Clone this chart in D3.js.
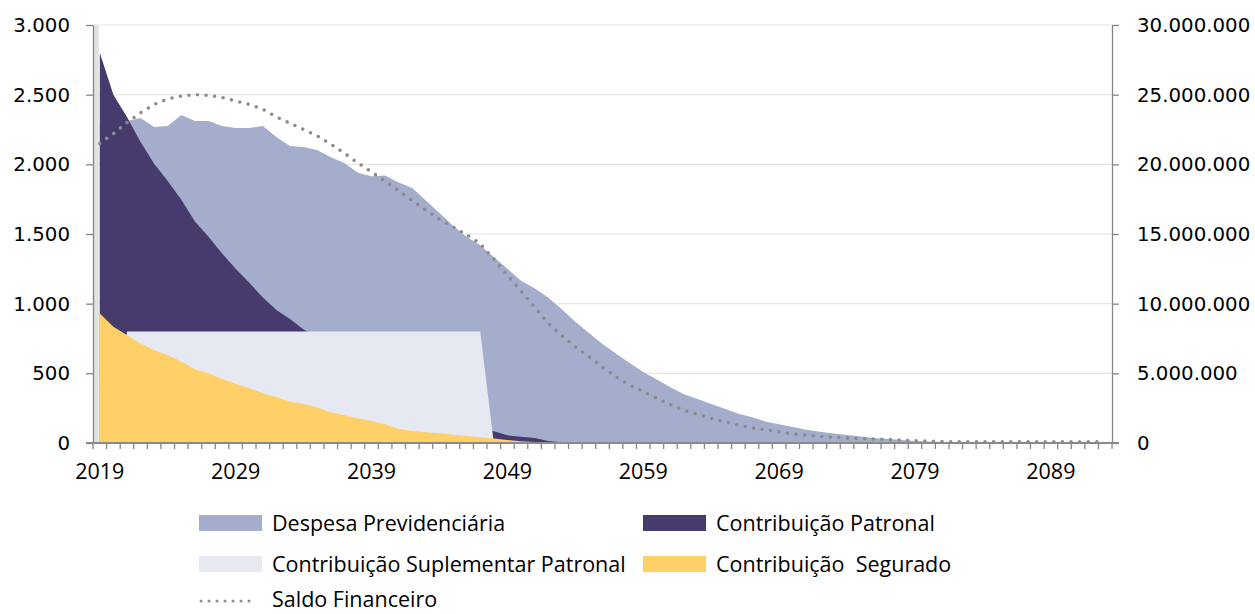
<!DOCTYPE html>
<html lang="pt-BR">
<head>
<meta charset="utf-8">
<title>Projeção atuarial</title>
<script src="https://cdn.jsdelivr.net/npm/d3@7/dist/d3.min.js"></script>
<style>
  html, body { margin: 0; padding: 0; background: #fff; }
  svg { display: block; }
</style>
</head>
<body>
<div id="chart"></div>
<script>
// categorias (anos)
const anos = d3.range(2019, 2094);

// Despesa Previdenciária (eixo esquerdo)
const despesa = [2290, 2300, 2311, 2332, 2268, 2275, 2354, 2311, 2311, 2275,
  2261, 2261, 2275, 2196, 2132, 2124, 2103, 2050, 2010, 1940,
  1915, 1920, 1870, 1830, 1740, 1650, 1560, 1480, 1420, 1335,
  1250, 1165, 1110, 1045, 960, 870, 790, 710, 640, 575,
  510, 455, 400, 350, 315, 280, 245, 210, 185, 155,
  135, 115, 95, 80, 68, 57, 46, 36, 28, 21,
  15, 10, 7, 5, 3, 2, 1, 1, 0, 0,
  0, 0, 0, 0, 0];

// Contribuição Patronal
const patronal = [2800, 2500, 2340, 2160, 2005, 1880, 1745, 1590, 1480, 1360,
  1250, 1150, 1045, 955, 890, 815, 760, 700, 640, 580,
  520, 460, 400, 340, 280, 220, 170, 130, 100, 85,
  55, 45, 35, 15, 5, 0, 0, 0, 0, 0,
  0, 0, 0, 0, 0, 0, 0, 0, 0, 0,
  0, 0, 0, 0, 0, 0, 0, 0, 0, 0,
  0, 0, 0, 0, 0, 0, 0, 0, 0, 0,
  0, 0, 0, 0, 0];

// Contribuição Suplementar Patronal
const suplementar = [0, 0, 800, 800, 800, 800, 800, 800, 800, 800,
  800, 800, 800, 800, 800, 800, 800, 800, 800, 800,
  800, 800, 800, 800, 800, 800, 800, 800, 800, 0,
  0, 0, 0, 0, 0, 0, 0, 0, 0, 0,
  0, 0, 0, 0, 0, 0, 0, 0, 0, 0,
  0, 0, 0, 0, 0, 0, 0, 0, 0, 0,
  0, 0, 0, 0, 0, 0, 0, 0, 0, 0,
  0, 0, 0, 0, 0];

// Contribuição Segurado
const segurado = [930, 835, 775, 715, 665, 630, 585, 530, 500, 460,
  425, 393, 357, 328, 298, 280, 255, 220, 200, 178,
  158, 135, 102, 86, 78, 70, 60, 50, 42, 32,
  22, 12, 8, 4, 0, 0, 0, 0, 0, 0,
  0, 0, 0, 0, 0, 0, 0, 0, 0, 0,
  0, 0, 0, 0, 0, 0, 0, 0, 0, 0,
  0, 0, 0, 0, 0, 0, 0, 0, 0, 0,
  0, 0, 0, 0, 0];

// Saldo Financeiro, em milhões (eixo direito)
const saldoMilhoes = [21.5, 22.2, 23.0, 23.7, 24.3, 24.7, 24.9, 25.0, 24.95, 24.8,
  24.55, 24.3, 23.95, 23.4, 22.95, 22.5, 22.05, 21.45, 20.8, 20.1,
  19.45, 18.8, 18.1, 17.4, 16.7, 16.05, 15.5, 14.95, 14.3, 13.2,
  12.05, 10.9, 9.75, 8.6, 7.7, 6.9, 6.2, 5.45, 4.75, 4.15,
  3.7, 3.2, 2.75, 2.35, 2.05, 1.77, 1.52, 1.3, 1.08, 0.95,
  0.8, 0.66, 0.56, 0.47, 0.41, 0.35, 0.31, 0.29, 0.25, 0.2,
  0.16, 0.13, 0.1, 0.08, 0.08, 0.08, 0.08, 0.08, 0.08, 0.08,
  0.08, 0.08, 0.08, 0.08, 0.08];

const ticksEsq = [0, 500, 1000, 1500, 2000, 2500, 3000];
const ticksDir = [0, 5000000, 10000000, 15000000, 20000000, 25000000, 30000000];
const rotulosAnos = [2019, 2029, 2039, 2049, 2059, 2069, 2079, 2089];

const width = 1255, height = 614;
const plot = { left: 93, right: 1112, top: 25, bottom: 443 };

const fontEixoY = "'DejaVu Sans', Verdana, sans-serif";
const fontTexto = "'Open Sans', 'Noto Sans', sans-serif";

const svg = d3.select("#chart").append("svg")
  .attr("width", width)
  .attr("height", height);

// escalas
const x = d3.scaleBand().domain(anos).range([plot.left, plot.right]);
const cx = a => x(a) + x.bandwidth() / 2;
const yL = d3.scaleLinear().domain([0, 3000]).range([plot.bottom, plot.top]);
const yR = d3.scaleLinear().domain([0, 30000000]).range([plot.bottom, plot.top]);

const br = d3.formatLocale({ decimal: ",", thousands: ".", grouping: [3], currency: ["R$ ", ""] });
const fmt = br.format(",");

// linhas de grade
svg.append("g")
  .selectAll("line")
  .data(ticksEsq.slice(1))
  .join("line")
  .attr("x1", plot.left).attr("x2", plot.right)
  .attr("y1", d => yL(d)).attr("y2", d => yL(d))
  .attr("stroke", "#e6e6e6")
  .attr("stroke-width", 1.2);

// faixa cinza junto ao eixo esquerdo
svg.append("rect")
  .attr("x", plot.left + 1)
  .attr("y", plot.top)
  .attr("width", cx(anos[0]) - plot.left - 2)
  .attr("height", plot.bottom - plot.top)
  .attr("fill", "#e2e2e2");

// áreas (ordem do Excel: a última fica na frente)
const series = [
  { nome: "Despesa Previdenciária", valores: despesa, cor: "#a4adcc" },
  { nome: "Contribuição Patronal", valores: patronal, cor: "#463b6c" },
  { nome: "Contribuição Suplementar Patronal", valores: suplementar, cor: "#e6e9f2" },
  { nome: "Contribuição  Segurado", valores: segurado, cor: "#fed067" }
];

const area = d3.area()
  .x((d, i) => cx(anos[i]))
  .y0(yL(0))
  .y1(d => yL(d));

svg.append("g")
  .selectAll("path")
  .data(series)
  .join("path")
  .attr("d", s => area(s.valores))
  .attr("fill", s => s.cor);

// saldo financeiro (pontilhado)
const linha = d3.line()
  .x((d, i) => cx(anos[i]))
  .y(d => yR(d * 1000000));

svg.append("path")
  .attr("d", linha(saldoMilhoes))
  .attr("fill", "none")
  .attr("stroke", "#8c8c8c")
  .attr("stroke-width", 3.6)
  .attr("stroke-linecap", "round")
  .attr("stroke-dasharray", "0,8.6");

// eixo esquerdo
const eixoEsq = svg.append("g")
  .attr("transform", `translate(${plot.left},0)`)
  .call(d3.axisLeft(yL).tickValues(ticksEsq).tickFormat(fmt).tickSize(7).tickSizeOuter(0).tickPadding(16));

// eixo direito
const eixoDir = svg.append("g")
  .attr("transform", `translate(${plot.right},0)`)
  .call(d3.axisRight(yR).tickValues(ticksDir).tickFormat(fmt).tickSize(7).tickSizeOuter(0).tickPadding(18));

[eixoEsq, eixoDir].forEach(g => {
  g.select(".domain").attr("stroke", "#868686").attr("stroke-width", 1.3);
  g.selectAll(".tick line").attr("stroke", "#868686").attr("stroke-width", 1.3);
  g.selectAll(".tick text")
    .attr("fill", "#000")
    .style("font-family", fontEixoY)
    .style("font-size", "19.8px");
});

// eixo inferior
const eixoX = svg.append("g").attr("transform", `translate(0,${plot.bottom})`);

eixoX.selectAll("line.marca")
  .data(anos.concat([null]))
  .join("line")
  .attr("class", "marca")
  .attr("x1", a => a === null ? plot.right : x(a))
  .attr("x2", a => a === null ? plot.right : x(a))
  .attr("y1", 0).attr("y2", 6)
  .attr("stroke", "#868686")
  .attr("stroke-width", 1.3);

eixoX.append("line")
  .attr("x1", plot.left - 7).attr("x2", plot.right + 7)
  .attr("y1", 0).attr("y2", 0)
  .attr("stroke", "#8a8a8a")
  .attr("stroke-width", 2);

eixoX.selectAll("text")
  .data(rotulosAnos)
  .join("text")
  .attr("x", a => cx(a))
  .attr("y", 36)
  .attr("text-anchor", "middle")
  .style("font-family", fontTexto)
  .style("font-size", "21.5px")
  .text(a => a);

// legenda
const legenda = svg.append("g").style("font-family", fontTexto).style("font-size", "21.5px");
const posLegenda = [
  { x: 199, y: 523 },
  { x: 643, y: 523 },
  { x: 199, y: 564 },
  { x: 643, y: 564 }
];

series.forEach((s, i) => {
  const p = posLegenda[i];
  legenda.append("rect")
    .attr("x", p.x).attr("y", p.y - 8)
    .attr("width", 63).attr("height", 16)
    .attr("fill", s.cor);
  legenda.append("text")
    .attr("x", p.x + 73).attr("y", p.y)
    .attr("dy", "0.35em")
    .style("white-space", "pre")
    .attr("xml:space", "preserve")
    .text(s.nome);
});

legenda.append("line")
  .attr("x1", 201).attr("x2", 250)
  .attr("y1", 601).attr("y2", 601)
  .attr("stroke", "#8c8c8c")
  .attr("stroke-width", 3)
  .attr("stroke-linecap", "round")
  .attr("stroke-dasharray", "0,8");

legenda.append("text")
  .attr("x", 272).attr("y", 599)
  .attr("dy", "0.35em")
  .text("Saldo Financeiro");
</script>
</body>
</html>
